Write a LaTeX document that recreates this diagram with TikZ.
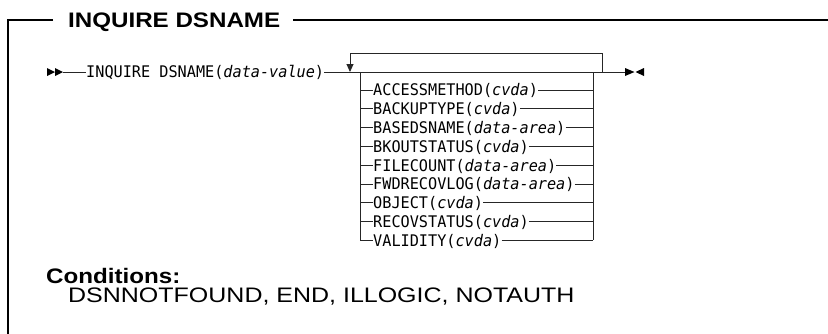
\documentclass[tikz,border=0pt]{standalone}
\usepackage{fontspec}
\newfontfamily\synfont[FakeStretch=0.95]{DejaVu Sans Mono}
\newfontfamily\headfont[FakeStretch=1.15]{Liberation Sans}
\newfontfamily\bodyfont[FakeStretch=1.19]{Liberation Sans}
\usetikzlibrary{arrows.meta}

\begin{document}
\begin{tikzpicture}[
      x=1pt, y=-1pt,
      frame/.style={line width=1.3pt},
      rail/.style={line width=0.9pt, draw=black!85},
      syn/.style={font=\synfont\fontsize{16}{16}\selectfont, inner sep=0pt, text height=11.7pt, text depth=0pt, anchor=west},
      heading/.style={font=\headfont\bfseries\fontsize{21}{21}\selectfont, inner sep=0pt, text height=15pt, text depth=0pt, anchor=west},
      cond/.style={font=\headfont\bfseries\fontsize{21}{21}\selectfont, inner sep=0pt, anchor=base west},
      plain/.style={font=\bodyfont\fontsize{21}{21}\selectfont, inner sep=0pt, anchor=base west},
      marker/.style={fill=black},
      loop/.style={rail, -{Triangle[length=8pt,width=7pt]}},
    ]
    \useasboundingbox (0,0) rectangle (828,333);
    % frame and title
    \node[heading] (ttl) at (68,20) {INQUIRE DSNAME};
    \coordinate (ftop) at (8,20);
    \coordinate (fbot) at (8,334);
    \coordinate (fend) at (829,20);
    \draw[frame] ([xshift=-15pt]ttl.west) -- (ftop) -- (fbot);
    \draw[frame] ([xshift=13pt]ttl.east) -- (fend);
    % start and end markers
    \fill[marker] (47,68) -- (55,72) -- (47,76) -- cycle;
    \fill[marker] (55,68) -- (63,72) -- (55,76) -- cycle;
    \coordinate (start) at (63,72);
    \fill[marker] (625,68) -- (634.5,72) -- (625,76) -- cycle;
    \fill[marker] (644,68) -- (635.5,72) -- (644,76) -- cycle;
    \coordinate (finish) at (625,72);
    % main line
    \node[syn] (stmt) at (86,72) {INQUIRE DSNAME(\textit{data-value})};
    \draw[rail] (start) -- (stmt.west);
    \draw[rail] (stmt.east) -- (finish);
    % repeat loop
    \coordinate (lpr) at (602,72);
    \coordinate (lpt) at (350,53);
    \coordinate (lpd) at (350,72);
    \draw[loop] (lpr) |- (lpt) -- (lpd);
    % options
    \coordinate (bl) at (360,72);
    \coordinate (br) at (593,72);
    \foreach \kw/\arg [count=\i] in {ACCESSMETHOD/cvda, BACKUPTYPE/cvda,
        BASEDSNAME/data-area, BKOUTSTATUS/cvda, FILECOUNT/data-area,
        FWDRECOVLOG/data-area, OBJECT/cvda, RECOVSTATUS/cvda, VALIDITY/cvda} {
      \node[syn] (opt\i) at (373,{71.2+18.8*\i}) {\kw(\textit{\arg})};
      \coordinate (l\i) at (360,{71.2+18.8*\i});
      \coordinate (r\i) at (593,{71.2+18.8*\i});
      \draw[rail] (l\i) -- (opt\i.west);
      \draw[rail] (opt\i.east) -- (r\i);
    }
    \draw[rail] (bl) -- (l9);
    \draw[rail] (br) -- (r9);
    % conditions
    \node[cond] (conds) at (46,283) {Conditions:};
    \node[plain] (codes) at (68,302) {DSNNOTFOUND, END, ILLOGIC, NOTAUTH};
  \end{tikzpicture}
\end{document}
